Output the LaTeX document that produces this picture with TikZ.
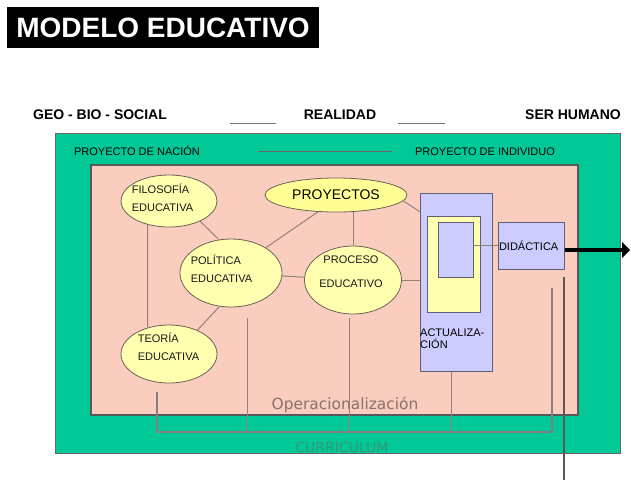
\documentclass[tikz,border=0pt]{standalone}
\usepackage{fontspec}
\setmainfont{Liberation Sans}
\newfontfamily\dejavu{DejaVu Sans}
\usetikzlibrary{arrows.meta,calc,shapes.geometric}

\definecolor{verde}{RGB}{0,200,150}
\definecolor{rosa}{RGB}{250,205,190}
\definecolor{crema}{RGB}{255,255,175}
\definecolor{lila}{RGB}{204,204,255}
\definecolor{linea}{RGB}{150,128,122}
\definecolor{borde}{RGB}{105,100,85}
\definecolor{bordecaja}{RGB}{95,95,115}
\definecolor{curri}{RGB}{55,150,120}

\tikzset{
  elipse/.style={ellipse, draw=borde, fill=crema, line width=0.8pt, inner sep=0pt},
  etiqueta/.style={anchor=west, align=left, inner sep=0pt, text=black!90, font=\fontsize{11}{18}\selectfont},
  caja/.style={draw=bordecaja, fill=lila, line width=1pt, inner sep=0pt},
  enlace/.style={draw=linea, line width=1pt},
  cabecera/.style={font=\fontsize{14}{16}\selectfont\bfseries},
  proyecto/.style={font=\fontsize{11}{13}\selectfont}
}

\begin{document}
\begin{tikzpicture}[x=1pt, y=-1pt]
			%%%%% START %%%%%
			\useasboundingbox (0,0) rectangle (631,480);
			
			\node[fill=black, minimum width=312pt, minimum height=41pt, inner sep=0pt, text=white, font=\fontsize{28}{30}\selectfont\bfseries] (titulo) at (163,27.5) {MODELO EDUCATIVO};
			
			\node[cabecera] (geo) at (100,115) {GEO - BIO - SOCIAL};
			\node[cabecera] (realidad) at (340,115) {REALIDAD};
			\node[cabecera] (ser) at (573,115) {SER HUMANO};
			\draw[black!55, line width=1pt] (230,123) -- (276,123);
			\draw[black!55, line width=1pt] (398,123) -- (445,123);
			
			\draw[fill=verde, draw=black!60, line width=0.8pt] (55,133) rectangle (620,453);
			\node[proyecto] (nacion) at (137,151) {PROYECTO DE NACIÓN};
			\node[proyecto] (individuo) at (485,152) {PROYECTO DE INDIVIDUO};
			\draw[black!60, line width=1pt] (258,151) -- (392,151);
			
			\draw[fill=rosa, draw=black!65, line width=1.2pt] (91,165) rectangle (578,415);
			
			\node[elipse, minimum width=96pt, minimum height=52pt] (filo) at (169,201) {};
			\node[elipse, minimum width=102pt, minimum height=68pt] (poli) at (231,273) {};
			\node[elipse, minimum width=96pt, minimum height=58pt] (teo) at (169,354) {};
			\node[elipse, minimum width=97pt, minimum height=68pt] (proc) at (353,280) {};
			\node[elipse, fill=crema!85!yellow, minimum width=142pt, minimum height=34pt, font=\fontsize{14}{16}\selectfont] (proy) at (336,195) {PROYECTOS};
			
			\node[etiqueta] at ($(filo.west)+(11,-3)$) {FILOSOFÍA\\EDUCATIVA};
			\node[etiqueta] at ($(poli.west)+(11,-4)$) {POLÍTICA\\EDUCATIVA};
			\node[etiqueta] at ($(teo.west)+(17,-7)$) {TEORÍA\\EDUCATIVA};
			\node[etiqueta, anchor=center, align=center, font=\fontsize{11}{24}\selectfont] at ($(proc)+(-2,-8)$) {PROCESO\\EDUCATIVO};
			
			\node[caja, minimum width=72pt, minimum height=178pt] (actua) at (456,282) {};
			\draw[fill=crema, draw=bordecaja, line width=1pt] (427,216) rectangle (480,312);
			\node[caja, minimum width=35pt, minimum height=55pt] (interior) at (455.5,249.5) {};
			\node[anchor=west, align=left, inner sep=0pt, font=\fontsize{11}{12}\selectfont] (actualiza) at (420,339) {ACTUALIZA-\\CIÓN};
			\node[caja, minimum width=66pt, minimum height=47pt, text width=64pt, align=left, font=\fontsize{11}{12}\selectfont] (didac) at (531,245.5) {DIDÁCTICA};
			
			\draw[enlace] (filo.-33) -- (poli.110);
			\draw[enlace] (poli.36) -- (proy.223);
			\draw[enlace] (poli) -- (proc);
			\draw[enlace] (poli.251) -- (teo.40);
			\draw[enlace] (filo.228) -- (teo.129);
			\draw[enlace] (proc.north |- proy.south) -- (proc.north);
			\draw[enlace] (proy.-5) -- ($(actua.north west)+(0,19)$);
			\draw[enlace] (proc.east) -- (proc.east -| actua.west);
			\draw[enlace] (interior.east |- didac.west) -- (didac.west);
			
			\coordinate (flecha) at (630,250);
			\draw[line width=4pt, -{Triangle[length=8pt,width=16pt]}] (didac.east |- flecha) -- (flecha);
			
			\draw[enlace] (247,318) -- (247,431);
			\draw[enlace] (349,318) -- (349,431);
			\draw[enlace] ($(actua.south)+(-5,0)$) -- (451,431);
			\draw[black!50, line width=1.8pt] (157,392) -- (157,432) -- (552,432) -- (552,288);
			\draw[black!65, line width=1.2pt] (564,277) -- (564,480);
			
			\node[text=black!45!rosa, font=\dejavu\fontsize{15.4}{17}\selectfont] (operacion) at (345,405) {Operacionalización};
			\node[text=curri, font=\dejavu\fontsize{14}{16}\selectfont] (curriculum) at (342,446) {CURRÍCULUM};
			
			%%%%% END %%%%%
\end{tikzpicture}
\end{document}
